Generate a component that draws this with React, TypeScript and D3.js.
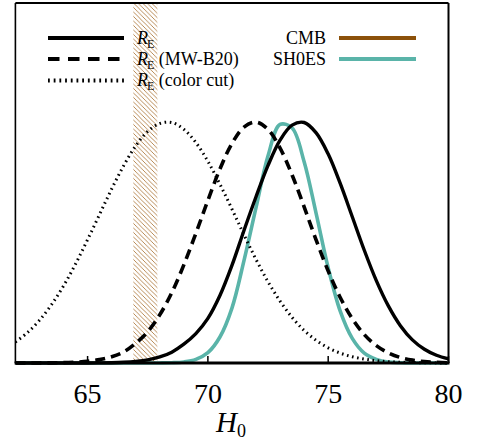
import React from "react";
import * as d3 from "d3";

// H0 grid (km/s/Mpc)
const hGrid = [62, 62.5, 63, 63.5, 64, 64.5, 65, 65.5, 66, 66.5, 67, 67.5, 68, 68.5, 69, 69.5, 70, 70.5, 71, 71.5, 72, 72.5, 73, 73.5, 74, 74.5, 75, 75.5, 76, 76.5, 77, 77.5, 78, 78.5, 79, 79.5, 80];

// normalised posteriors
const rE = [0, 0, 0, 0, 0, 0, 0.0002, 0.0006, 0.0013, 0.003, 0.0065, 0.013, 0.025, 0.045, 0.078, 0.122, 0.185, 0.28, 0.405, 0.55, 0.69, 0.82, 0.925, 0.987, 0.998, 0.955, 0.867, 0.745, 0.607, 0.468, 0.342, 0.237, 0.155, 0.096, 0.057, 0.032, 0.017];
const rEmw = [0, 0.0001, 0.0003, 0.0007, 0.0015, 0.0035, 0.007, 0.014, 0.026, 0.046, 0.082, 0.13, 0.2, 0.292, 0.407, 0.538, 0.675, 0.805, 0.911, 0.979, 1.0, 0.969, 0.892, 0.78, 0.648, 0.51, 0.382, 0.272, 0.184, 0.118, 0.072, 0.042, 0.023, 0.012, 0.006, 0.003, 0.001];
const rEcc = [0.087, 0.126, 0.177, 0.242, 0.32, 0.411, 0.512, 0.617, 0.722, 0.819, 0.901, 0.961, 0.994, 0.998, 0.97, 0.915, 0.837, 0.742, 0.639, 0.532, 0.43, 0.337, 0.257, 0.189, 0.135, 0.094, 0.063, 0.041, 0.026, 0.016, 0.0095, 0.0055, 0.003, 0.002, 0.001, 0.0005, 0];
const sh0es = [0, 0, 0, 0, 0, 0, 0, 0, 0, 0, 0, 0.0001, 0.0003, 0.0012, 0.0045, 0.015, 0.043, 0.108, 0.228, 0.425, 0.645, 0.86, 0.99, 0.975, 0.835, 0.62, 0.395, 0.215, 0.102, 0.041, 0.015, 0.004, 0.001, 0, 0, 0, 0];

const cmbBand = [66.9, 67.9];
const xTicks = [65, 70, 75, 80];

const W = 479, H = 442;
const left = 15.4, right = 448.5, top = 3, bottom = 363;

const BROWN = "#8c510a";
const HATCH = "#a8702f";
const TEAL = "#5ab4a9";
const FONT = "'Liberation Serif', 'Times New Roman', serif";

export default function App() {
  const x = d3.scaleLinear().domain([62, 80]).range([left, right]);
  const y = d3.scaleLinear().domain([0, 1.494]).range([bottom, top]);
  const mk = (vals: number[]) =>
    d3.line<number>().x((_, i) => x(hGrid[i])).y((v) => y(v)).curve(d3.curveCatmullRom.alpha(0.5))(vals) || "";

  const legendRE = (yy: number, suffix: string) => (
    <text x={137} y={yy + 6} fontFamily={FONT} fontSize={18} fill="#000">
      <tspan fontStyle="italic">R</tspan>
      <tspan fontSize={12} dy={4} dx={-1}>E</tspan>
      <tspan dy={-4}>{suffix}</tspan>
    </text>
  );

  return (
    <svg width={W} height={H} style={{ position: "absolute", left: 0, top: 0, background: "#fff" }}>
      <defs>
        <pattern id="hatch" patternUnits="userSpaceOnUse" width={4.5} height={4.5}>
          <path d="M-1,-1 L5.5,5.5 M-1,3.5 L1,5.5 M3.5,-1 L5.5,1" stroke={HATCH} strokeWidth={0.8} />
        </pattern>
        <clipPath id="plot">
          <rect x={left} y={top} width={right - left} height={bottom - top + 3} />
        </clipPath>
      </defs>
      <rect x={x(cmbBand[0])} y={top} width={x(cmbBand[1]) - x(cmbBand[0])} height={bottom - top} fill="url(#hatch)" />
      <g clipPath="url(#plot)" fill="none">
        <path d={mk(sh0es)} stroke={TEAL} strokeWidth={3.6} />
        <path d={mk(rE)} stroke="#000" strokeWidth={3.4} />
        <path d={mk(rEmw)} stroke="#000" strokeWidth={3.6} strokeDasharray="10,6" />
        <path d={mk(rEcc)} stroke="#000" strokeWidth={3} strokeDasharray="1.6,3.6" />
      </g>
      {/* frame */}
      <line x1={left} x2={left} y1={top} y2={bottom} stroke="#000" strokeWidth={1.6} />
      <line x1={left} x2={right} y1={top} y2={top} stroke="#000" strokeWidth={2} />
      <line x1={right} x2={right} y1={top} y2={bottom} stroke="#000" strokeWidth={2} />
      <line x1={left - 0.8} x2={right + 1} y1={bottom} y2={bottom} stroke="#000" strokeWidth={3} />
      {xTicks.map((t) => (
        <g key={t}>
          <line x1={x(t)} x2={x(t)} y1={bottom} y2={bottom - 7} stroke="#000" strokeWidth={1.5} />
          <text x={x(t)} y={403} textAnchor="middle" fontFamily={FONT} fontSize={28} fill="#000">{t}</text>
        </g>
      ))}
      <text x={216} y={432} fontFamily={FONT} fontSize={29} fill="#000">
        <tspan fontStyle="italic">H</tspan>
        <tspan fontSize={18} dy={5}>0</tspan>
      </text>
      {/* legend left */}
      <line x1={48} x2={124} y1={38} y2={38} stroke="#000" strokeWidth={4.2} />
      <line x1={48} x2={124} y1={59} y2={59} stroke="#000" strokeWidth={4.2} strokeDasharray="11.5,8.5" />
      <line x1={48} x2={124} y1={80.5} y2={80.5} stroke="#000" strokeWidth={4} strokeDasharray="1.8,3.9" />
      {legendRE(38, "")}
      {legendRE(59, " (MW-B20)")}
      {legendRE(80, " (color cut)")}
      {/* legend right */}
      <text x={326} y={44} textAnchor="end" fontFamily={FONT} fontSize={18} fill="#000">CMB</text>
      <text x={326} y={65} textAnchor="end" fontFamily={FONT} fontSize={18} fill="#000">SH0ES</text>
      <line x1={339} x2={416} y1={38} y2={38} stroke={BROWN} strokeWidth={4.2} />
      <line x1={339} x2={416} y1={59} y2={59} stroke={TEAL} strokeWidth={4.2} />
    </svg>
  );
}
